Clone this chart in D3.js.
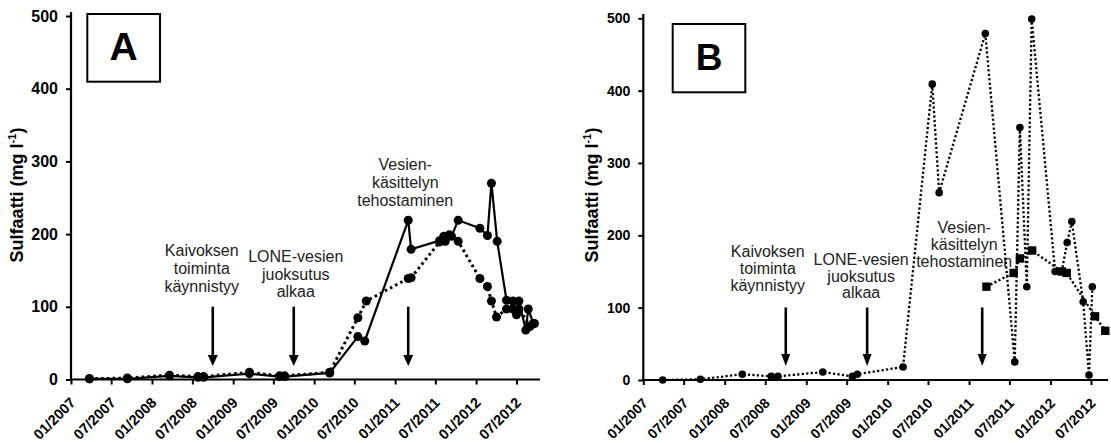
<!DOCTYPE html>
<html><head><meta charset="utf-8">
<script src="https://cdn.jsdelivr.net/npm/d3@7"></script>
<style>
html,body{margin:0;padding:0;background:#fff;}
svg{display:block;}
text{font-family:"Liberation Sans",Arial,sans-serif;}
</style></head><body>
<svg id="chart" width="1111" height="443"></svg>
<script>
// ---------- data ----------
const xTickDates = ["2007-01-01","2007-07-01","2008-01-01","2008-07-01","2009-01-01","2009-07-01",
  "2010-01-01","2010-07-01","2011-01-01","2011-07-01","2012-01-01","2012-07-01"];
const yTickValues = [0,100,200,300,400,500];

// Panel A, solid line with circles
const aSolidDates = ["2007-03-25","2007-09-12","2008-03-20","2008-07-26","2008-08-21","2009-03-15","2009-07-29","2009-08-21",
  "2010-03-12","2010-07-17","2010-08-17","2011-03-01","2011-03-14","2011-07-20","2011-09-12","2011-10-12",
  "2012-01-18","2012-02-21","2012-03-10","2012-04-05","2012-05-17","2012-06-15","2012-07-12","2012-08-12","2012-08-23","2012-09-15"];
const aSolidValues = [1,1,5,3,3,8,4,4, 9,59,53,219,179,191,197,219, 208,198,270,190,109,108,108,68,97,77];

// Panel A, dotted line with circles
const aDottedDates = ["2007-03-25","2007-09-12","2008-03-20","2008-07-26","2008-08-21","2009-03-15","2009-07-29","2009-08-21",
  "2010-03-12","2010-07-17","2010-08-24","2011-03-01","2011-03-14","2011-07-20","2011-08-08","2011-08-15","2011-09-02","2011-10-12",
  "2012-01-18","2012-02-21","2012-03-10","2012-04-02","2012-05-17","2012-06-15","2012-07-01","2012-07-12","2012-09-01","2012-09-20"];
const aDottedValues = [1,2,6,4,4,10,5,5, 10,85,108,139,140,189,197,190,199,190, 139,128,108,86,97,97,89,97,73,77];

// Panel B, dotted line with circles
const bCircleDates = ["2007-03-29","2007-09-14","2008-03-20","2008-07-28","2008-08-27","2009-03-16","2009-07-27","2009-08-18",
  "2010-03-11","2010-07-20","2010-08-20","2011-03-15","2011-07-25","2011-08-17","2011-09-17","2011-10-09",
  "2012-01-22","2012-02-21","2012-03-16","2012-04-06","2012-05-27","2012-06-22","2012-07-07"];
const bCircleValues = [0,1,8,5,5,11,5,8, 18,409,259,479,25,349,129,499, 150,150,190,219,108,7,129];

// Panel B, dotted line with squares
const bSquareDates = ["2011-03-20","2011-07-20","2011-08-17","2011-10-11","2012-02-21","2012-03-14","2012-07-19","2012-09-03"];
const bSquareValues = [129,148,168,179,150,148,88,68];

// Event annotations
const eventDates = ["2008-10-01","2009-10-01","2011-03-01"];
const eventLabels = [["Kaivoksen","toiminta","käynnistyy"],["LONE-vesien","juoksutus","alkaa"],["Vesien-","käsittelyn","tehostaminen"]];
const panelLetters = ["A","B"];
const yTitleMain = "Sulfaatti (mg l";
const yTitleSup = "-1";
const yTitleEnd = ")";

// ---------- layout ----------
const parse = d3.timeParse("%Y-%m-%d");
const svg = d3.select("#chart");
svg.append("rect").attr("width",1111).attr("height",443).attr("fill","#fff");

const panels = [
  { x0:71, xJul12:516.5, xEnd:540, y0:379.5, y500:16, yTop:12,
    yTickFont:16, xTickFont:14.5, titleX:23,
    box:[87.3,14,72.7,67.7], letterFont:39, letterBase:60,
    labelDx:[-11,2,-3], labelBase:[256,261.7,170], lineH:17.8, arrowTop:306.7, arrowTip:366,
    headW:10, headH:11 },
  { x0:643.3, xJul12:1091, xEnd:1108, y0:380, y500:18.3, yTop:14,
    yTickFont:14, xTickFont:14, titleX:598,
    box:[672.7,24,72.6,68.3], letterFont:37, letterBase:70,
    labelDx:[-18,-6,-18], labelBase:[257.3,265,233.3], lineH:16.7, arrowTop:307.5, arrowTip:366,
    headW:9, headH:12 }
];

function zip(ds, vs){ return ds.map((d,i)=>({date:parse(d), value:vs[i]})); }

const seriesA = [
  {data:zip(aSolidDates,aSolidValues), dash:null, width:2.2, marker:"circle", r:4.5},
  {data:zip(aDottedDates,aDottedValues), dash:"2.6,3.2", width:3, marker:"circle", r:4.5}
];
const seriesB = [
  {data:zip(bCircleDates,bCircleValues), dash:"2.2,2.3", width:2.3, marker:"circle", r:3.8},
  {data:zip(bSquareDates,bSquareValues), dash:"2.2,2.3", width:2.3, marker:"square", r:4.2}
];

function drawPanel(cfg, series, letter){
  const g = svg.append("g");
  const t0 = parse("2007-01-01"), t1 = parse("2012-07-01");
  const x = d3.scaleTime().domain([t0,t1]).range([cfg.x0,cfg.xJul12]);
  const tEnd = x.invert(cfg.xEnd);
  x.domain([t0,tEnd]).range([cfg.x0,cfg.xEnd]);
  const y = d3.scaleLinear().domain([0,500]).range([cfg.y0,cfg.y500]);

  // y axis
  const ya = g.append("g").attr("transform",`translate(${cfg.x0},0)`)
    .call(d3.axisLeft(y).tickValues(yTickValues).tickSize(5).tickPadding(8).tickSizeOuter(0));
  ya.select(".domain").remove();
  ya.selectAll(".tick line").attr("stroke","#000").attr("stroke-width",2);
  ya.selectAll(".tick text").attr("font-size",cfg.yTickFont).attr("font-weight","bold")
    .attr("fill","#000").style("font-family","'Liberation Sans',Arial,sans-serif");
  g.append("line").attr("x1",cfg.x0).attr("x2",cfg.x0).attr("y1",cfg.yTop).attr("y2",cfg.y0+1)
    .attr("stroke","#000").attr("stroke-width",2.2);

  // x axis
  const xa = g.append("g").attr("transform",`translate(0,${cfg.y0})`)
    .call(d3.axisBottom(x).tickValues(xTickDates.map(parse)).tickFormat(d3.timeFormat("%m/%Y")).tickSize(5).tickSizeOuter(0));
  xa.select(".domain").remove();
  xa.selectAll(".tick line").attr("stroke","#000").attr("stroke-width",2);
  xa.selectAll(".tick text").attr("font-size",cfg.xTickFont).attr("font-weight","bold").attr("fill","#000")
    .style("font-family","'Liberation Sans',Arial,sans-serif")
    .attr("x",0).attr("y",0).attr("dy",0).attr("text-anchor","end")
    .attr("transform","translate(5,24) rotate(-45)");
  g.append("line").attr("x1",cfg.x0-1).attr("x2",cfg.xEnd).attr("y1",cfg.y0).attr("y2",cfg.y0)
    .attr("stroke","#000").attr("stroke-width",2.2);

  // y title
  const tt = g.append("text").attr("transform",`translate(${cfg.titleX},195) rotate(-90)`)
    .attr("text-anchor","middle").attr("font-size",18).attr("font-weight","bold").attr("fill","#000");
  tt.append("tspan").text(yTitleMain);
  tt.append("tspan").text(yTitleSup).attr("font-size",11).attr("dy",-7);
  tt.append("tspan").text(yTitleEnd).attr("dy",7);

  // letter box
  g.append("rect").attr("x",cfg.box[0]).attr("y",cfg.box[1]).attr("width",cfg.box[2]).attr("height",cfg.box[3])
    .attr("fill","#fff").attr("stroke","#000").attr("stroke-width",2);
  g.append("text").attr("x",cfg.box[0]+cfg.box[2]/2).attr("y",cfg.letterBase).attr("text-anchor","middle")
    .attr("font-size",cfg.letterFont).attr("font-weight","bold").attr("fill","#000").text(letter);

  // events
  eventDates.forEach((ds,i)=>{
    const ex = x(parse(ds));
    g.append("line").attr("x1",ex).attr("x2",ex).attr("y1",cfg.arrowTop).attr("y2",cfg.arrowTip-cfg.headH+1)
      .attr("stroke","#000").attr("stroke-width",2.6);
    g.append("path").attr("d",`M${ex-cfg.headW/2},${cfg.arrowTip-cfg.headH} L${ex+cfg.headW/2},${cfg.arrowTip-cfg.headH} L${ex},${cfg.arrowTip} Z`)
      .attr("fill","#000");
    const tx = g.append("text").attr("text-anchor","middle").attr("font-size",16).attr("fill","#222");
    eventLabels[i].forEach((ln,j)=>{
      tx.append("tspan").attr("x",ex+cfg.labelDx[i]).attr("y",cfg.labelBase[i]+j*cfg.lineH).text(ln);
    });
  });

  // series
  const line = d3.line().x(d=>x(d.date)).y(d=>y(d.value));
  series.forEach(s=>{
    g.append("path").datum(s.data).attr("d",line).attr("fill","none").attr("stroke","#000")
      .attr("stroke-width",s.width).attr("stroke-dasharray",s.dash);
  });
  series.forEach(s=>{
    if(s.marker==="circle"){
      g.selectAll(null).data(s.data).enter().append("circle")
        .attr("cx",d=>x(d.date)).attr("cy",d=>y(d.value)).attr("r",s.r).attr("fill","#000");
    } else {
      g.selectAll(null).data(s.data).enter().append("rect")
        .attr("x",d=>x(d.date)-s.r).attr("y",d=>y(d.value)-s.r).attr("width",2*s.r).attr("height",2*s.r).attr("fill","#000");
    }
  });
}

drawPanel(panels[0], seriesA, panelLetters[0]);
drawPanel(panels[1], seriesB, panelLetters[1]);
</script></body></html>
